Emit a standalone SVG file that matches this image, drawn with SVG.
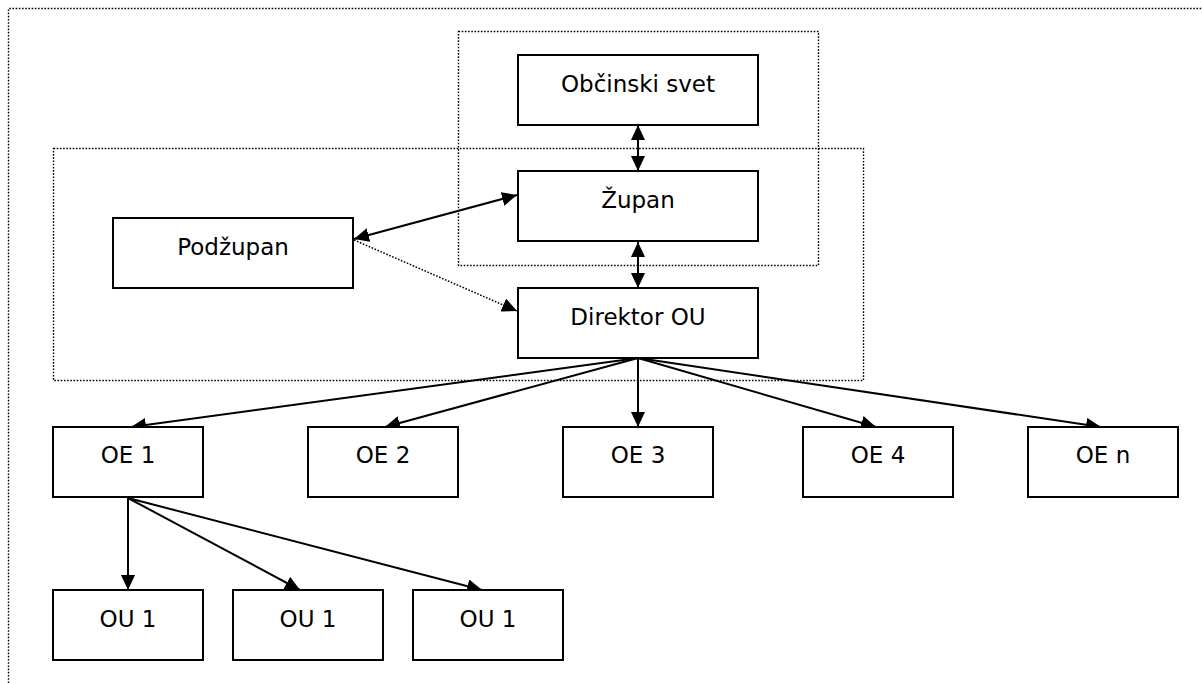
<svg xmlns="http://www.w3.org/2000/svg" width="1202" height="683" viewBox="0 0 1202 683">
<style>
.box{fill:#fff;stroke:#000;stroke-width:2}
.grp{fill:none;stroke:#000;stroke-width:1.4;stroke-dasharray:1.6 1.6}
.lbl{font-family:"DejaVu Sans",Verdana,sans-serif;font-size:23px;text-anchor:middle;fill:#000}
.ln{stroke:#000;stroke-width:2;fill:none}
.dot{stroke:#000;stroke-width:1.5;fill:none;stroke-dasharray:1.6 1.6}
</style>
<defs>
<marker id="ah" viewBox="0 0 15 14" refX="15" refY="7" markerWidth="15" markerHeight="14" markerUnits="userSpaceOnUse" orient="auto-start-reverse">
<path d="M0,0 L15,7 L0,14 Z" fill="#000"/>
</marker>
</defs>
<rect width="1202" height="683" fill="#fff"/>
<g id="frame">
<path class="grp" d="M8.5,683 V8.5 H1202"/>
<rect class="grp" x="458.5" y="31.5" width="360" height="234"/>
<rect class="grp" x="53.5" y="148.5" width="810" height="232"/>
</g>
<g id="connectors">
<line class="ln" x1="638" y1="125" x2="638" y2="171" marker-start="url(#ah)" marker-end="url(#ah)"/>
<line class="ln" x1="638" y1="242" x2="638" y2="288" marker-start="url(#ah)" marker-end="url(#ah)"/>
<line class="ln" x1="354" y1="239" x2="517" y2="195" marker-start="url(#ah)" marker-end="url(#ah)"/>
<line class="dot" x1="354" y1="240" x2="517" y2="311" marker-end="url(#ah)"/>
<line class="ln" x1="638" y1="358" x2="131" y2="427" marker-end="url(#ah)"/>
<line class="ln" x1="638" y1="358" x2="385" y2="427" marker-end="url(#ah)"/>
<line class="ln" x1="638" y1="358" x2="638" y2="427" marker-end="url(#ah)"/>
<line class="ln" x1="638" y1="358" x2="876" y2="427" marker-end="url(#ah)"/>
<line class="ln" x1="638" y1="358" x2="1101" y2="427" marker-end="url(#ah)"/>
<line class="ln" x1="128" y1="498" x2="128" y2="590" marker-end="url(#ah)"/>
<line class="ln" x1="128" y1="498" x2="300" y2="590" marker-end="url(#ah)"/>
<line class="ln" x1="128" y1="498" x2="482" y2="590" marker-end="url(#ah)"/>
</g>
<g id="obcinski-svet"><rect class="box" x="518" y="55" width="240" height="70"/><text class="lbl" x="638" y="92">Občinski svet</text></g>
<g id="zupan"><rect class="box" x="518" y="171" width="240" height="70"/><text class="lbl" x="638" y="208">Župan</text></g>
<g id="podzupan"><rect class="box" x="113" y="218" width="240" height="70"/><text class="lbl" x="233" y="255">Podžupan</text></g>
<g id="direktor-ou"><rect class="box" x="518" y="288" width="240" height="70"/><text class="lbl" x="638" y="325">Direktor OU</text></g>
<g id="oe1"><rect class="box" x="53" y="427" width="150" height="70"/><text class="lbl" x="128" y="463">OE 1</text></g>
<g id="oe2"><rect class="box" x="308" y="427" width="150" height="70"/><text class="lbl" x="383" y="463">OE 2</text></g>
<g id="oe3"><rect class="box" x="563" y="427" width="150" height="70"/><text class="lbl" x="638" y="463">OE 3</text></g>
<g id="oe4"><rect class="box" x="803" y="427" width="150" height="70"/><text class="lbl" x="878" y="463">OE 4</text></g>
<g id="oen"><rect class="box" x="1028" y="427" width="150" height="70"/><text class="lbl" x="1103" y="463">OE n</text></g>
<g id="ou1a"><rect class="box" x="53" y="590" width="150" height="70"/><text class="lbl" x="128" y="627">OU 1</text></g>
<g id="ou1b"><rect class="box" x="233" y="590" width="150" height="70"/><text class="lbl" x="308" y="627">OU 1</text></g>
<g id="ou1c"><rect class="box" x="413" y="590" width="150" height="70"/><text class="lbl" x="488" y="627">OU 1</text></g>
</svg>
